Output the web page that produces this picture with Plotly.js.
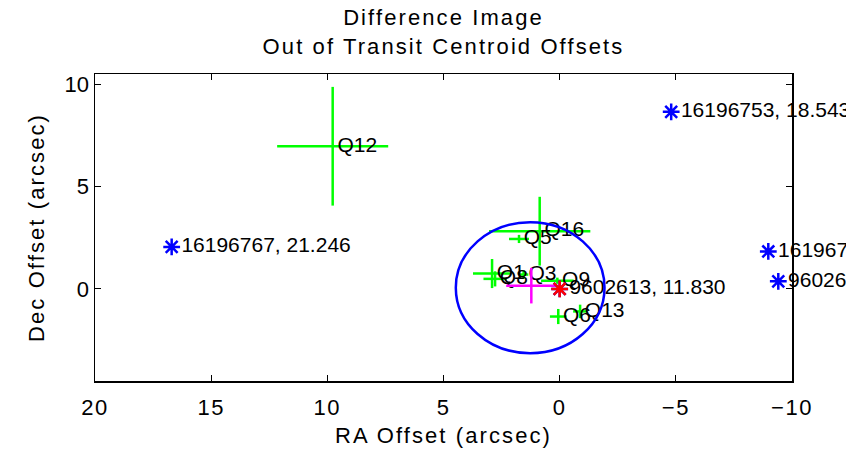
<!DOCTYPE html>
<html>
<head>
<meta charset="utf-8">
<script src="https://cdn.plot.ly/plotly-3.0.1.min.js"></script>
<style>
  html, body { margin: 0; padding: 0; background: #ffffff; }
  #chart { width: 846px; height: 454px; }
  .gtitle, .xtitle, .ytitle { letter-spacing: 2.1px; }
  .xtick text { letter-spacing: 1.5px; }
</style>
</head>
<body>
<div id="chart"></div>
<script>
// Per-quarter out-of-transit centroid offsets (arcsec) and 1-sigma errors
const quarterLabels = ['Q12', 'Q16', 'Q5', 'Q1', 'Q8', 'Q3', 'Q9', 'Q6', 'Q13'];
const quarterRA     = [9.77, 0.86, 1.75, 2.91, 2.78, 1.55, 0.10, 0.06, -0.88];
const quarterDec    = [6.97, 2.82, 2.44, 0.75, 0.49, 0.70, 0.40, -1.35, -1.10];
const quarterRAErr  = [2.39, 2.18, 0.43, 0.82, 0.50, 0.20, 0.70, 0.36, 0.30];
const quarterDecErr = [2.90, 1.68, 0.20, 0.71, 0.37, 0.20, 0.15, 0.37, 0.33];

// Mean offset and its uncertainty
const meanRA = [1.22];
const meanDec = [0.16];
const meanRAErr = [1.08];
const meanDecErr = [0.87];

// 3-sigma circle about the mean
const circleCenterRA = 1.27;
const circleCenterDec = 0.06;
const circleRadius = 3.2;

// Nearby catalogue stars (KIC id, Kepler magnitude)
const starRA = [-4.80, 16.70, -8.98, -9.41, 0.00];
const starDec = [8.65, 2.05, 1.83, 0.37, 0.00];
const starLabels = ['16196753, 18.543', '16196767, 21.246', '16196768, 20.118', '9602600, 17.625', '9602613, 11.830'];

// Target star
const targetRA = [0];
const targetDec = [0];

// Axis ticks
const xTicks = [20, 15, 10, 5, 0, -5, -10];
const yTicks = [0, 5, 10];

const FONT = 'Liberation Sans, Arial, Helvetica, sans-serif';

const traces = [
  {
    type: 'scatter',
    mode: 'markers+text',
    x: quarterRA,
    y: quarterDec,
    text: quarterLabels,
    textposition: 'middle right',
    textfont: { family: FONT, size: 21, color: '#000000' },
    marker: { size: 6, color: 'rgba(0,0,0,0)' },
    error_x: { type: 'data', array: quarterRAErr, symmetric: true, color: '#00ff00', thickness: 2.5, width: 0 },
    error_y: { type: 'data', array: quarterDecErr, symmetric: true, color: '#00ff00', thickness: 2.5, width: 0 },
    cliponaxis: false,
    hoverinfo: 'skip'
  },
  {
    type: 'scatter',
    mode: 'markers',
    x: meanRA,
    y: meanDec,
    marker: { size: 1, color: 'rgba(0,0,0,0)' },
    error_x: { type: 'data', array: meanRAErr, symmetric: true, color: '#ff00ff', thickness: 2.5, width: 0 },
    error_y: { type: 'data', array: meanDecErr, symmetric: true, color: '#ff00ff', thickness: 2.5, width: 0 },
    hoverinfo: 'skip'
  },
  {
    type: 'scatter',
    mode: 'markers+text',
    x: starRA,
    y: starDec,
    text: starLabels,
    textposition: 'middle right',
    textfont: { family: FONT, size: 21, color: '#000000' },
    marker: { symbol: 'asterisk-open', size: 14, color: '#0000ff', line: { color: '#0000ff', width: 2.5 } },
    cliponaxis: false,
    hoverinfo: 'skip'
  },
  {
    type: 'scatter',
    mode: 'markers',
    x: targetRA,
    y: targetDec,
    marker: { symbol: 'asterisk-open', size: 14, color: '#ff0000', line: { color: '#ff0000', width: 2.5 } },
    cliponaxis: false,
    hoverinfo: 'skip'
  }
];

const layout = {
  width: 846,
  height: 454,
  margin: { l: 95, r: 54, t: 74, b: 73 },
  paper_bgcolor: '#ffffff',
  plot_bgcolor: '#ffffff',
  showlegend: false,
  font: { family: FONT, size: 20, color: '#000000' },
  title: {
    text: 'Difference Image<br>Out of Transit Centroid Offsets',
    font: { family: FONT, size: 22, color: '#000000' },
    xref: 'paper', x: 0.5, xanchor: 'center',
    yref: 'container', y: 0.945, yanchor: 'top'
  },
  xaxis: {
    range: [20, -10],
    tickvals: xTicks,
    ticks: 'inside', ticklen: 6, tickwidth: 1, tickcolor: '#000000',
    showline: true, linecolor: '#000000', linewidth: 1.5, mirror: 'ticks',
    showgrid: false, zeroline: false,
    tickfont: { family: FONT, size: 22, color: '#000000' },
    ticklabelstandoff: 6,
    title: { text: 'RA Offset (arcsec)', font: { family: FONT, size: 22, color: '#000000' }, standoff: 8 }
  },
  yaxis: {
    range: [-4.5, 10.5],
    tickvals: yTicks,
    ticks: 'inside', ticklen: 6, tickwidth: 1, tickcolor: '#000000',
    showline: true, linecolor: '#000000', linewidth: 1.5, mirror: 'ticks',
    showgrid: false, zeroline: false,
    tickfont: { family: FONT, size: 22, color: '#000000' },
    ticklabelstandoff: 0,
    title: { text: 'Dec Offset (arcsec)', font: { family: FONT, size: 22, color: '#000000' }, standoff: 14 }
  },
  shapes: [
    {
      type: 'circle', xref: 'x', yref: 'y',
      x0: circleCenterRA - circleRadius, x1: circleCenterRA + circleRadius,
      y0: circleCenterDec - circleRadius, y1: circleCenterDec + circleRadius,
      line: { color: '#0000ff', width: 2.5 },
      fillcolor: 'rgba(0,0,0,0)',
      layer: 'above'
    }
  ]
};

Plotly.newPlot('chart', traces, layout, { displayModeBar: false, staticPlot: true });
</script>
</body>
</html>
